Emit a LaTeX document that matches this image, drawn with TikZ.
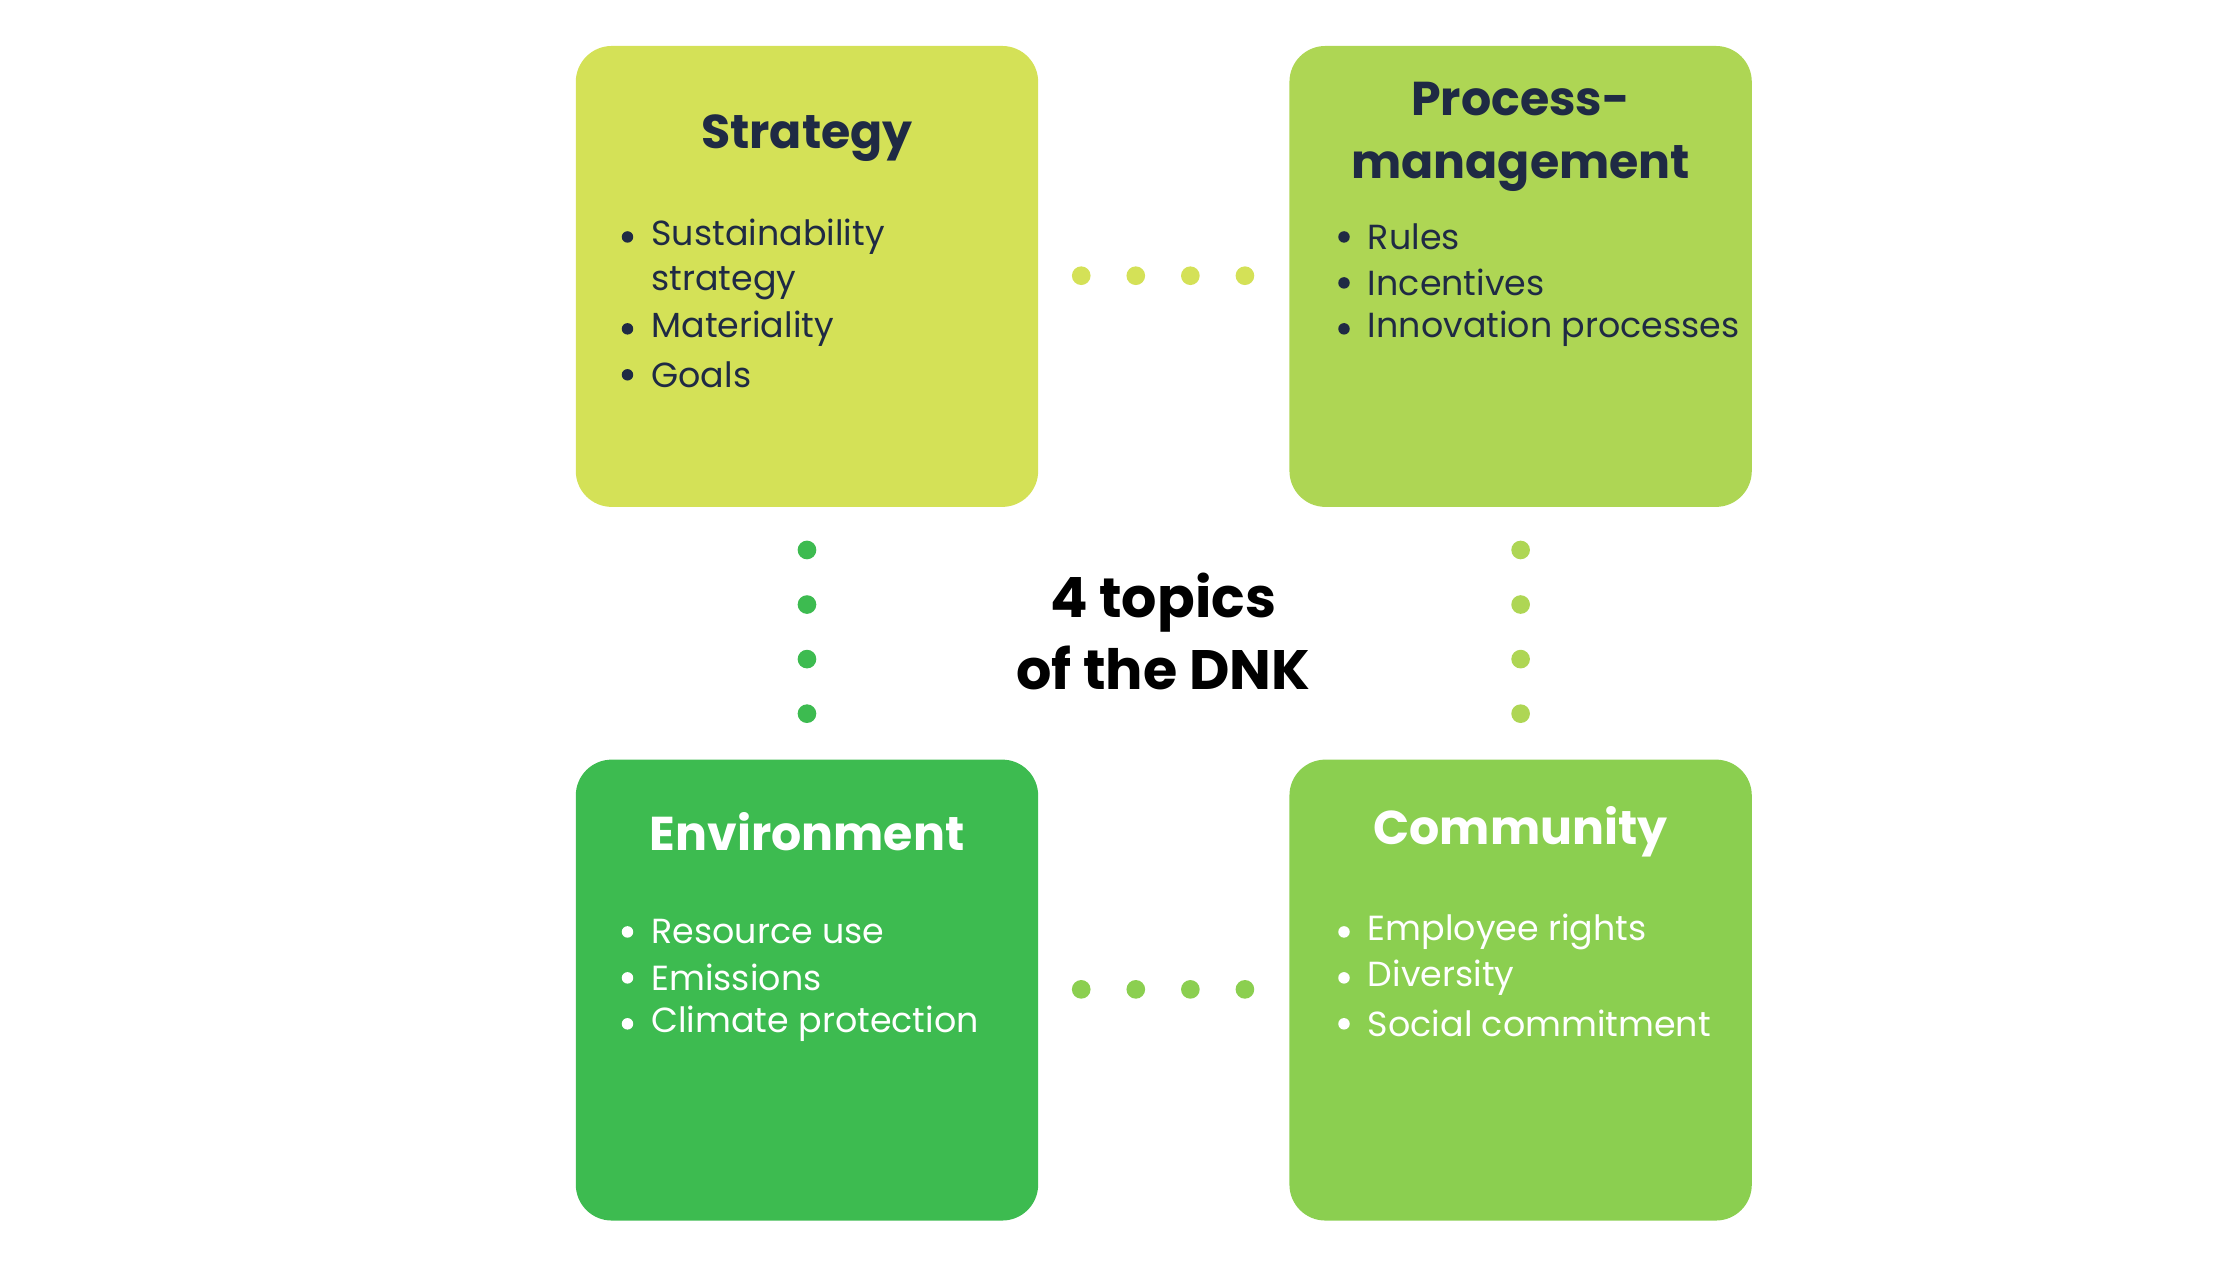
\documentclass[tikz,border=0pt]{standalone}
\usepackage{fontspec}
\setmainfont{Poppins}
\definecolor{cS}{HTML}{D4E157}
\definecolor{cP}{HTML}{AED654}
\definecolor{cE}{HTML}{3DBB50}
\definecolor{cC}{HTML}{8BCF50}
\definecolor{ink}{HTML}{1F2A44}
\begin{document}
\begin{tikzpicture}[x=0.01cm,y=-0.01cm,
  box/.style={rounded corners=0.25cm,inner sep=0},
  ttl/.style={font=\fontsize{9.4}{12.5}\selectfont\bfseries,align=center},
  itm/.style={font=\fontsize{6.9}{9.1}\selectfont,anchor=west,inner sep=0},
  bul/.style={circle,inner sep=0,minimum size=0.08cm},
  dot/.style={circle,inner sep=0,minimum size=0.13cm}]
\useasboundingbox (0,0) rectangle (1560,877.5);
\fill[cS,box] (401,32) rectangle (723,353);
\fill[cP,box] (898,32) rectangle (1220,353);
\fill[cE,box] (401,529) rectangle (723,850);
\fill[cC,box] (898,529) rectangle (1220,850);
\node[ttl,text=ink] (ts) at (562,96) {Strategy};
\node[ttl,text=ink] (tp) at (1059,95) {Process-\\management};
\node[ttl,text=white] (te) at (562,579) {Environment};
\node[ttl,text=white] (tc) at (1059,579) {Community};
% bullets
\foreach \y/\t in {165/Sustainability,197/strategy,229/Materiality,261/Goals}
  \node[itm,text=ink] at (453,\y) {\t};
\foreach \y in {165,229,261} \fill[ink] (437,\y) circle (4);
\foreach \y/\t in {165/Rules,197/Incentives,229/Innovation processes}
  {\node[itm,text=ink] at (952,\y) {\t}; \fill[ink] (936,\y) circle (4);}
\foreach \y/\t in {649/Resource use,681/Emissions,713/Climate protection}
  {\node[itm,text=white] at (453,\y) {\t}; \fill[white] (437,\y) circle (4);}
\foreach \y/\t in {649/Employee rights,681/Diversity,713/Social commitment}
  {\node[itm,text=white] at (952,\y) {\t}; \fill[white] (936,\y) circle (4);}
% dots
\foreach \x in {753,791,829,867} {\fill[cS] (\x,192) circle (6.5); \fill[cC] (\x,689) circle (6.5);}
\foreach \y in {383,421,459,497} {\fill[cE] (562,\y) circle (6.5); \fill[cP] (1059,\y) circle (6.5);}
\node[font=\fontsize{11}{14.3}\selectfont\bfseries,align=center] (c) at (810,440) {4 topics\\of the DNK};
\end{tikzpicture}
\end{document}
